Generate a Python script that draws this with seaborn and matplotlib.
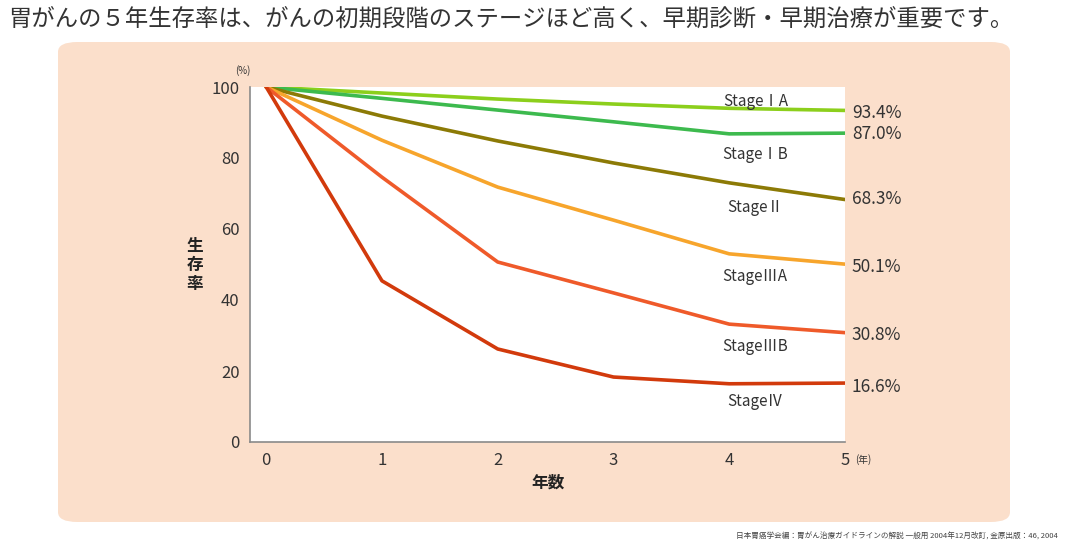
import numpy as np
import pandas as pd
import seaborn as sns
import matplotlib.pyplot as plt
from matplotlib.patches import FancyBboxPatch

# data
years = [0, 1, 2, 3, 4, 5]
stages = ["StageⅠA", "StageⅠB", "StageⅡ", "StageⅢA", "StageⅢB", "StageⅣ"]
stage_1a = [100, 98.3, 96.6, 95.2, 94.0, 93.4]
stage_1b = [100, 96.8, 93.5, 90.2, 86.8, 87.0]
stage_2 = [100, 91.8, 84.8, 78.6, 73.0, 68.3]
stage_3a = [100, 85.0, 71.8, 62.5, 53.0, 50.1]
stage_3b = [100, 74.6, 50.7, 42.0, 33.2, 30.8]
stage_4 = [100, 45.4, 26.2, 18.3, 16.4, 16.6]
end_labels = ["93.4%", "87.0%", "68.3%", "50.1%", "30.8%", "16.6%"]
colors = ["#8ccf1c", "#3dba4e", "#8c7a06", "#f7a52c", "#ef5a2a", "#d23a0c"]

sns.set_style("white")
plt.rcParams['font.family'] = ['Noto Sans CJK JP', 'DejaVu Sans']

rows = []
for name, vals in zip(stages, [stage_1a, stage_1b, stage_2, stage_3a, stage_3b, stage_4]):
    for y, v in zip(years, vals):
        rows.append({"stage": name, "year": y, "rate": v})
df = pd.DataFrame(rows)

fig = plt.figure(figsize=(10.76, 5.5), dpi=100)
fig.patch.set_facecolor("white")

# peach panel
bg = FancyBboxPatch((58/1076, 1-522/550), (1010-58)/1076, (522-42)/550,
                    boxstyle="round,pad=0,rounding_size=0.018", transform=fig.transFigure,
                    facecolor="#fbdfcb", edgecolor="none", zorder=-5)
fig.patches.append(bg)

ax = fig.add_axes([250/1076, 1-442/550, (845-250)/1076, (442-87)/550])
ax.set_zorder(2)
ax.set_facecolor("white")
sns.lineplot(data=df, x="year", y="rate", hue="stage", palette=colors,
             linewidth=2.6, legend=False, ax=ax)
ax.set_xlim(-0.14, 5)
ax.set_ylim(0, 100)
ax.set_xticks(years)
ax.set_yticks([0, 20, 40, 60, 80, 100])
ax.set_xlabel("")
ax.set_ylabel("")
for s in ["top", "right"]:
    ax.spines[s].set_visible(False)
for s in ["left", "bottom"]:
    ax.spines[s].set_color("#8a8a8a")
    ax.spines[s].set_linewidth(1.2)
ax.tick_params(axis="both", colors="#8a8a8a", length=4, width=1, labelsize=12,
               labelcolor="#333333", direction="out")
ax.tick_params(axis="x", pad=3)

# stage labels
label_pos = [(4.23, 95.9), (4.22, 81.0), (4.22, 66.1), (4.22, 46.7), (4.22, 27.0), (4.22, 11.3)]
for name, (x, y) in zip(stages, label_pos):
    ax.text(x, y, name, ha="center", va="center", fontsize=11, color="#333333")

# end value labels
end_y = [92.8, 86.9, 68.4, 49.4, 30.2, 15.5]
for lab, y in zip(end_labels, end_y):
    ax.text(5.06, y, lab, ha="left", va="center", fontsize=12.5, color="#333333",
            clip_on=False)

ax.text(-0.14, 104.5, "(%)", ha="right", va="center", fontsize=7, color="#333333")
ax.text(5.09, -4.8, "(年)", ha="left", va="center", fontsize=7, color="#333333")

fig.text(548/1076, 1-483/550, "年数", ha="center", va="center", fontsize=12,
         fontweight="bold", color="#222222")
fig.text(195/1076, 1-265/550, "生\n存\n率", ha="center", va="center", fontsize=12,
         fontweight="bold", color="#222222", linespacing=1.05)

fig.text(8/1076, 1-19/550, "胃がんの５年生存率は、がんの初期段階のステージほど高く、早期診断・早期治療が重要です。",
         ha="left", va="center", fontsize=16.8, color="#333333")
fig.text(1058/1076, 1-537/550,
         "日本胃癌学会編：胃がん治療ガイドラインの解説 一般用 2004年12月改訂, 金原出版：46, 2004",
         ha="right", va="center", fontsize=5.5, color="#444444")

fig.savefig("out.png", dpi=100)
